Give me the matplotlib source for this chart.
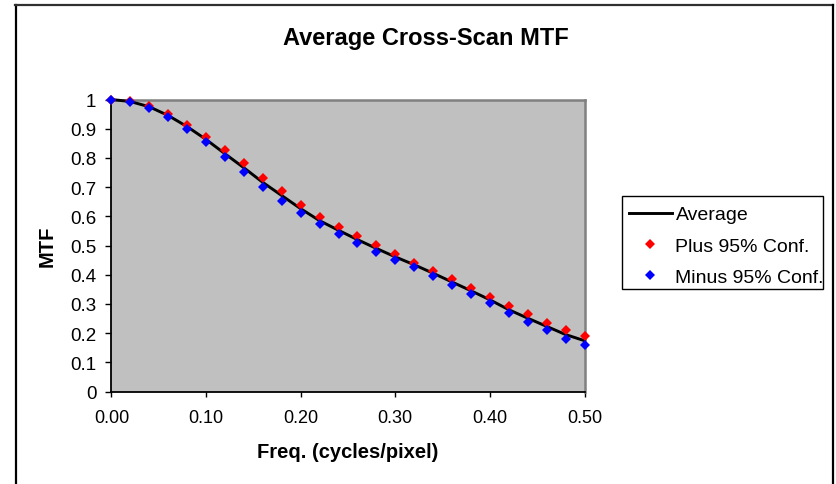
import matplotlib
matplotlib.use("Agg")
import matplotlib.pyplot as plt
from matplotlib.lines import Line2D
from matplotlib.patches import Rectangle

plt.rcParams['font.family'] = ['Liberation Sans', 'DejaVu Sans']

freq = [0.00, 0.02, 0.04, 0.06, 0.08, 0.10, 0.12, 0.14, 0.16, 0.18, 0.20, 0.22, 0.24,
        0.26, 0.28, 0.30, 0.32, 0.34, 0.36, 0.38, 0.40, 0.42, 0.44, 0.46, 0.48, 0.50]
average = [1.000, 0.993, 0.975, 0.945, 0.907, 0.863, 0.814, 0.766, 0.716, 0.671, 0.626,
           0.585, 0.552, 0.520, 0.490, 0.461, 0.434, 0.405, 0.375, 0.345, 0.314, 0.280,
           0.251, 0.223, 0.195, 0.174]
plus95 = [0.998, 0.994, 0.979, 0.949, 0.914, 0.872, 0.826, 0.781, 0.732, 0.688, 0.640,
          0.598, 0.563, 0.532, 0.503, 0.471, 0.441, 0.414, 0.386, 0.355, 0.324, 0.292,
          0.266, 0.235, 0.210, 0.189]
minus95 = [1.000, 0.991, 0.971, 0.941, 0.900, 0.854, 0.802, 0.751, 0.700, 0.654, 0.612,
           0.572, 0.540, 0.509, 0.478, 0.452, 0.427, 0.396, 0.365, 0.335, 0.304, 0.269,
           0.237, 0.212, 0.181, 0.159]

y_ticks = [0, 0.1, 0.2, 0.3, 0.4, 0.5, 0.6, 0.7, 0.8, 0.9, 1.0]
y_ticklabels = ["0", "0.1", "0.2", "0.3", "0.4", "0.5", "0.6", "0.7", "0.8", "0.9", "1"]
x_ticks = [0.0, 0.1, 0.2, 0.3, 0.4, 0.5]
x_ticklabels = ["0.00", "0.10", "0.20", "0.30", "0.40", "0.50"]

W, H = 836, 485
fig = plt.figure(figsize=(W / 100, H / 100), dpi=100)
fig.patch.set_facecolor('white')

ax = fig.add_axes([111.5 / W, 1 - 392.5 / H, 473 / W, 292 / H])
ax.set_facecolor('#C0C0C0')

ax.plot(freq, average, color='black', lw=2.1, label='Average', zorder=3, clip_on=False)
ax.plot(freq, plus95, ls='none', marker='D', ms=5.6, mew=0, color='#FF0000',
        label='Plus 95% Conf.', zorder=4, clip_on=False)
ax.plot(freq, minus95, ls='none', marker='D', ms=5.6, mew=0, color='#0000FF',
        label='Minus 95% Conf.', zorder=5, clip_on=False)

ax.set_xlim(0, 0.5)
ax.set_ylim(0, 1)
ax.set_xticks(x_ticks)
ax.set_xticklabels(x_ticklabels)
ax.set_yticks(y_ticks)
ax.set_yticklabels(y_ticklabels)
ax.tick_params(axis='x', direction='out', length=3.6, width=1, pad=9, labelsize=13)
ax.tick_params(axis='y', direction='out', length=4.3, width=1, pad=6.5, labelsize=13.5)

for side in ['left', 'bottom']:
    ax.spines[side].set_color('black')
    ax.spines[side].set_linewidth(1.3)
for side in ['top', 'right']:
    ax.spines[side].set_color('#808080')
    ax.spines[side].set_linewidth(1.8)

ax.set_xlabel('Freq. (cycles/pixel)', fontsize=14.5, fontweight='bold', va='center', ha='center')
ax.xaxis.set_label_coords(0.5, (392.5 - 453) / 292)
ax.set_ylabel('MTF', fontsize=14.5, fontweight='bold', va='center', ha='center')
ax.yaxis.set_label_coords((47.5 - 111.5) / 473, 0.5)

fig.text(426 / W, 1 - 39 / H, 'Average Cross-Scan MTF', fontsize=17, fontweight='bold',
         ha='center', va='center')

# legend frame drawn separately
fig.add_artist(Rectangle((622 / W, 1 - 290 / H), (823 - 622) / W, (290 - 197) / H,
                         transform=fig.transFigure, facecolor='white', edgecolor='black',
                         lw=1.0, zorder=1))
leg = fig.legend(loc='upper left', bbox_to_anchor=(622 / W, 1 - 200 / H),
                 fontsize=14, frameon=False, numpoints=1,
                 handlelength=2.2, handletextpad=0.2, labelspacing=0.7,
                 borderpad=0.35, borderaxespad=0)
leg.set_zorder(2)

# outer chart border (left, top, right)
fig.add_artist(Line2D([15.8 / W, 15.8 / W], [0, 1 - 5.5 / H], transform=fig.transFigure,
                      color='black', lw=1.6))
fig.add_artist(Line2D([15 / W, 832.5 / W], [1 - 5.5 / H, 1 - 5.5 / H], transform=fig.transFigure,
                      color='#303030', lw=1.6))
fig.add_artist(Line2D([832.5 / W, 832.5 / W], [0, 1 - 5.5 / H], transform=fig.transFigure,
                      color='black', lw=1.6))

fig.savefig('out.png', dpi=100)
